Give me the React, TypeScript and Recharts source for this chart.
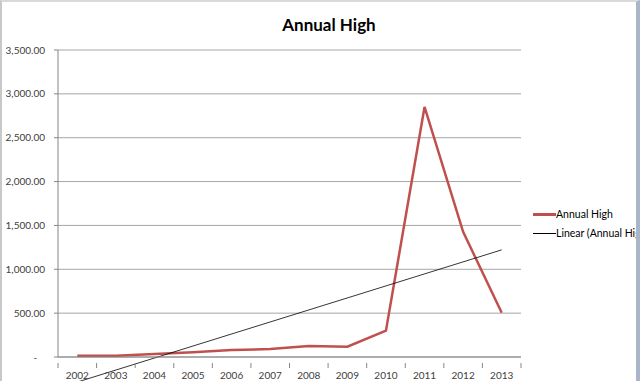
import React from 'react';
import { LineChart, Line, XAxis, YAxis, CartesianGrid, ReferenceLine } from 'recharts';

const years = ['2002', '2003', '2004', '2005', '2006', '2007', '2008', '2009', '2010', '2011', '2012', '2013'];
const annualHigh = [15, 15, 35, 55, 80, 90, 125, 118, 300, 2851, 1427, 505];
const yTicks = [0, 500, 1000, 1500, 2000, 2500, 3000, 3500];

// least squares trend, like Excel's "Linear" trendline
const n = annualHigh.length;
const meanX = (n + 1) / 2;
const meanY = annualHigh.reduce((a, b) => a + b, 0) / n;
let sxy = 0;
let sxx = 0;
annualHigh.forEach((v, i) => {
    sxy += (i + 1 - meanX) * (v - meanY);
    sxx += (i + 1 - meanX) * (i + 1 - meanX);
});
const slope = sxy / sxx;
const intercept = meanY - slope * meanX;

const data = years.map((year, i) => ({
    year,
    high: annualHigh[i],
}));

// trendline drawn from first to last year, may dip under the axis like Excel's
const trendSegment = [
    { x: years[0], y: intercept + slope * 1 },
    { x: years[n - 1], y: intercept + slope * n },
];

const FONT = 'Lato, "Open Sans", sans-serif';
const RED = '#C0504D';

const fmt = (v: number) =>
    v === 0 ? '-\u00a0\u00a0\u00a0' : v.toLocaleString('en-US', { minimumFractionDigits: 2, maximumFractionDigits: 2 });

const YearTick = (props: any) => {
    const { x, y, payload, index, visibleTicksCount } = props;
    const half = payload.offset || 0;
    const last = index === visibleTicksCount - 1;
    return (
        <g>
            <line x1={x - half} x2={x - half} y1={y - 2} y2={y + 3} stroke="#868686" />
            {last && <line x1={x + half} x2={x + half} y1={y - 2} y2={y + 3} stroke="#868686" />}
            <text x={x} y={y + 14} textAnchor="middle" fontSize={10} fontFamily={FONT} fill="#404040">
                {payload.value}
            </text>
        </g>
    );
};

export default function App() {
    return (
        <div
            style={{
                position: 'relative',
                width: 640,
                height: 381,
                background: '#fff',
                boxSizing: 'border-box',
                borderTop: '2px solid #d9d9d9',
                borderLeft: '2px solid #c8c8c8',
                borderRight: '4px solid #a9b6c9',
                overflow: 'hidden',
            }}
        >
            <style>{`body{margin:0}`}</style>
            <div
                style={{
                    position: 'absolute',
                    left: 227,
                    width: 200,
                    top: 12,
                    textAlign: 'center',
                    fontFamily: FONT,
                    fontWeight: 'bold',
                    fontSize: 17,
                    color: '#000',
                }}
            >
                Annual High
            </div>
            <div style={{ position: 'absolute', left: -2, top: -2 }}>
                <LineChart width={640} height={381} data={data} margin={{ top: 50, right: 119, bottom: 0, left: 0 }}>
                    <CartesianGrid vertical={false} stroke="#a6a6a6" />
                    <XAxis
                        dataKey="year"
                        scale="band"
                        height={24}
                        stroke="#868686"
                        tickLine={false}
                        interval={0}
                        tick={<YearTick />}
                    />
                    <YAxis
                        width={58}
                        domain={[0, 3500]}
                        ticks={yTicks}
                        allowDataOverflow
                        stroke="#868686"
                        tickSize={4}
                        tickMargin={9}
                        tickFormatter={fmt}
                        tick={{ fontSize: 10, fontFamily: FONT, fill: '#404040' }}
                    />
                    <Line
                        type="linear"
                        dataKey="high"
                        stroke={RED}
                        strokeWidth={2.5}
                        dot={false}
                        isAnimationActive={false}
                    />
                    <ReferenceLine segment={trendSegment} stroke="#000" strokeWidth={0.8} ifOverflow="visible" />
                </LineChart>
            </div>
            <div
                style={{
                    position: 'absolute',
                    left: 531,
                    top: 203,
                    fontFamily: FONT,
                    fontSize: 10.5,
                    color: '#000',
                    whiteSpace: 'nowrap',
                    lineHeight: '19px',
                }}
            >
                <div style={{ display: 'flex', alignItems: 'center' }}>
                    <span style={{ display: 'inline-block', width: 23, height: 3, background: RED }} />
                    <span>Annual High</span>
                </div>
                <div style={{ display: 'flex', alignItems: 'center' }}>
                    <span style={{ display: 'inline-block', width: 23, height: 1, background: '#000' }} />
                    <span>Linear (Annual High)</span>
                </div>
            </div>
        </div>
    );
}
